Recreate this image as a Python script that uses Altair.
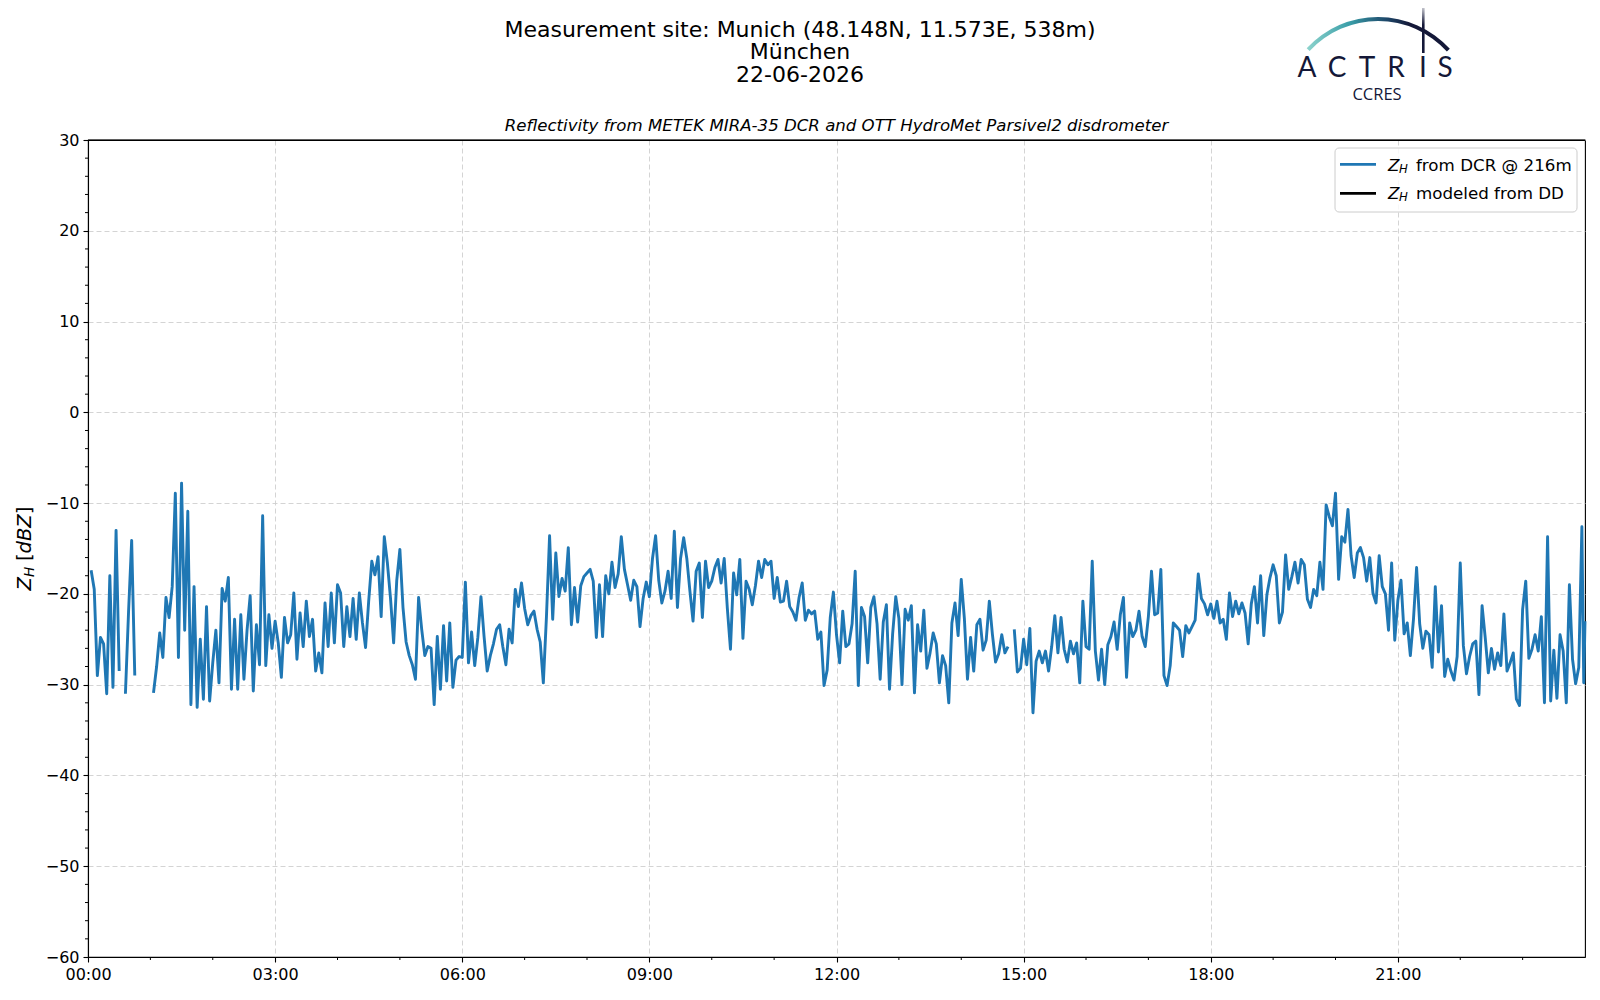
import altair as alt
import pandas as pd

# ---------------- data (3-minute samples) ----------------
STEP_H = 0.05  # 3 minutes in hours

H00 = [None, -17.4, -19.5, -29.0, -24.8, -25.5, -31.0, -18.0, -30.3, -13.0, -28.5, None, -31.0, -22.0, -14.1, -29.0, None, None, None, None]
H01 = [None, -30.9, -28.0, -24.3, -27.0, -20.4, -22.6, -19.2, -8.9, -27.0, -7.8, -24.0, -10.9, -32.2, -19.2, -32.5, -25.0, -31.6, -21.4, -31.8]
H02 = [-27.6, -24.0, -29.8, -19.4, -20.8, -18.2, -30.5, -22.8, -30.5, -22.3, -29.4, -24.0, -20.2, -30.7, -23.4, -27.8, -11.4, -27.9, -22.3, -26.0]
H03 = [-23.0, -25.4, -29.2, -22.6, -25.4, -24.5, -19.9, -27.2, -22.1, -25.8, -20.8, -24.7, -22.8, -28.5, -26.5, -28.7, -21.0, -25.8, -19.9, -25.4]
H04 = [-19.0, -19.9, -25.8, -21.4, -24.7, -20.5, -25.0, -19.9, -23.2, -25.9, -20.8, -16.4, -17.9, -15.9, -22.5, -13.7, -16.6, -20.5, -25.4, -18.5]
H05 = [-15.1, -21.5, -25.3, -26.8, -27.8, -29.4, -20.4, -23.9, -26.8, -25.8, -26.0, -32.2, -24.7, -30.5, -23.5, -29.6, -23.2, -30.3, -27.3, -26.9]
H06 = [-27.0, -18.7, -27.6, -24.2, -27.9, -24.8, -20.3, -24.7, -28.5, -26.8, -25.5, -23.9, -23.4, -25.8, -27.8, -23.9, -25.4, -19.5, -21.4, -18.8]
H07 = [-21.6, -23.4, -22.4, -21.9, -23.9, -25.3, -29.8, -22.5, -13.6, -22.8, -15.5, -20.3, -18.3, -19.7, -14.9, -23.4, -19.3, -23.1, -19.1, -18.1]
H08 = [-17.7, -17.3, -18.6, -24.8, -19.0, -24.7, -18.0, -20.0, -16.5, -19.3, -17.8, -13.7, -17.3, -19.0, -20.7, -18.5, -19.2, -23.6, -20.5, -18.7]
H09 = [-20.3, -16.1, -13.6, -18.5, -21.0, -19.7, -17.5, -20.5, -13.1, -21.5, -16.1, -13.8, -16.1, -19.7, -23.0, -17.5, -16.6, -22.6, -16.4, -19.3]
H10 = [-18.6, -17.1, -16.2, -18.8, -16.1, -21.6, -26.1, -17.7, -20.1, -16.2, -24.9, -18.6, -19.5, -21.2, -19.1, -16.4, -18.2, -16.2, -16.8, -16.4]
H11 = [-20.5, -18.2, -20.9, -20.8, -18.6, -21.4, -22.0, -22.9, -20.4, -18.8, -22.9, -21.8, -22.2, -21.9, -25.0, -24.2, -30.1, -28.4, -22.6, -19.8]
H12 = [-24.5, -27.6, -21.9, -25.8, -25.5, -23.3, -17.5, -30.1, -21.5, -22.5, -27.6, -21.5, -20.3, -23.3, -29.4, -23.1, -21.2, -30.5, -24.4, -20.3]
H13 = [-22.7, -30.0, -21.7, -22.9, -21.3, -30.9, -23.4, -26.3, -21.8, -28.2, -26.5, -24.3, -25.5, -29.8, -26.8, -27.9, -32.0, -23.2, -21.0, -24.6]
H14 = [-18.4, -22.7, -29.4, -24.8, -28.5, -23.4, -22.8, -26.2, -25.1, -20.8, -24.5, -27.5, -26.6, -24.5, -26.5, -25.8, None, -23.9, -28.6, -28.2]
H15 = [-25.0, -27.8, -23.8, -33.1, -27.4, -26.3, -27.6, -26.3, -28.5, -25.8, -22.4, -26.5, -22.6, -26.1, -27.5, -25.2, -26.6, -25.4, -29.8, -20.8]
H16 = [-25.8, -26.1, -16.4, -26.3, -29.5, -26.1, -30.0, -25.6, -24.7, -23.1, -26.1, -22.3, -20.4, -29.2, -23.2, -24.7, -24.0, -21.9, -24.7, -25.8]
H17 = [-22.5, -17.5, -22.3, -22.1, -17.3, -29.0, -30.1, -27.9, -23.2, -23.6, -24.0, -26.9, -23.5, -24.3, -23.6, -22.9, -17.8, -20.5, -21.1, -22.3]
H18 = [-21.1, -22.7, -20.8, -23.2, -22.8, -25.0, -19.9, -22.5, -20.8, -22.2, -21.0, -22.1, -25.5, -21.1, -19.2, -23.2, -18.0, -24.6, -20.1, -18.2]
H19 = [-16.8, -18.0, -23.2, -22.0, -15.7, -19.5, -18.1, -16.5, -18.8, -16.2, -16.8, -20.6, -21.5, -19.5, -20.2, -16.5, -19.5, -10.2, -11.5, -12.5]
H20 = [-8.9, -18.4, -13.7, -14.3, -10.7, -15.8, -18.2, -15.5, -14.9, -16.0, -18.6, -16.0, -19.9, -21.0, -15.8, -19.2, -20.0, -24.0, -16.6, -25.1]
H21 = [-20.7, -18.5, -24.4, -23.2, -26.8, -22.8, -17.1, -23.3, -26.0, -24.1, -24.5, -28.1, -19.2, -26.4, -21.3, -29.1, -27.2, -28.5, -29.5, -26.9]
H22 = [-16.6, -25.7, -28.8, -26.9, -25.5, -25.2, -31.1, -21.3, -24.8, -28.7, -26.0, -28.3, -26.5, -27.9, -22.2, -28.5, -27.6, -26.5, -31.6, -32.3]
H23 = [-21.7, -18.6, -27.1, -26.1, -24.5, -26.3, -22.5, -32.0, -13.7, -31.8, -26.2, -31.5, -24.5, -26.3, -32.0, -19.0, -27.2, -29.9, -28.1, -12.6]
END_T = [23.98, 24.0]
END_V = [-29.8, -23.0]

HOURLY = [H00, H01, H02, H03, H04, H05, H06, H07, H08, H09, H10, H11,
          H12, H13, H14, H15, H16, H17, H18, H19, H20, H21, H22, H23]

Y_MAJOR = list(range(-60, 31, 10))
Y_MINOR = [v for v in range(-58, 30, 2) if v % 10 != 0]
X_MAJOR = [0, 3, 6, 9, 12, 15, 18, 21]
X_MINOR = [h for h in range(1, 24) if h % 3 != 0]

rows = []
seg = 0
in_gap = False
for h, vals in enumerate(HOURLY):
    for k, v in enumerate(vals):
        t = h + k * STEP_H
        if v is None:
            if not in_gap:
                seg += 1
            in_gap = True
            continue
        in_gap = False
        rows.append({"t": t, "v": v, "seg": seg})
for t, v in zip(END_T, END_V):
    rows.append({"t": t, "v": v, "seg": seg})
df = pd.DataFrame(rows)

# ---------------- layout ----------------
W, H = 1497, 817
FONT = "DejaVu Sans"
NAVY = "#141838"
BLUE = "#1f77b4"

x_scale = alt.Scale(domain=[0, 24], nice=False, zero=False)
y_scale = alt.Scale(domain=[-60, 30], nice=False, zero=False)

axis_common = dict(
    grid=True, gridDash=[5, 3], gridColor="#cfcfcf", gridWidth=0.9,
    domainColor="black", domainWidth=1.1, tickColor="black", tickWidth=1.1, tickSize=5,
    labelFont=FONT, labelFontSize=16, labelColor="black", labelPadding=4,
    labelFlush=False, labelOverlap=False, labelBound=False, title=None,
)
x_axis = alt.Axis(values=X_MAJOR,
                  labelExpr="(datum.value < 10 ? '0' : '') + datum.value + ':00'",
                  **axis_common)
y_axis = alt.Axis(values=Y_MAJOR, format="d", **axis_common)

x_enc = alt.X("t:Q", scale=x_scale, axis=x_axis)
y_enc = alt.Y("v:Q", scale=y_scale, axis=y_axis)

line = alt.Chart(df).mark_line(color=BLUE, strokeWidth=2.9, strokeJoin="round").encode(
    x=x_enc, y=y_enc, detail="seg:N"
)

y_minor = alt.Chart(pd.DataFrame({"v": Y_MINOR})).mark_rule(color="black", strokeWidth=1).encode(
    y=y_enc, x=alt.value(-3), x2=alt.value(0)
)
x_minor = alt.Chart(pd.DataFrame({"t": X_MINOR})).mark_rule(color="black", strokeWidth=1).encode(
    x=x_enc, y=alt.value(H), y2=alt.value(H + 3)
)

one = pd.DataFrame({"_": [0]})

# solid top frame line (over the grid line at 30)
top_frame = alt.Chart(one).mark_rule(color="black", strokeWidth=1.4).encode(
    x=alt.value(0), x2=alt.value(W), y=alt.value(0.2))


def txt(text, x, y, size, align="left", baseline="alphabetic", font=FONT,
        style="normal", color="black", angle=None, weight="normal"):
    kw = dict(text=text, align=align, baseline=baseline, fontSize=size, font=font,
              fontStyle=style, color=color, fontWeight=weight)
    if angle is not None:
        kw["angle"] = angle
    return alt.Chart(one).mark_text(**kw).encode(x=alt.value(x), y=alt.value(y))


layers = [line, y_minor, x_minor, top_frame]

# titles
layers += [
    txt("Measurement site: Munich (48.148N, 11.573E, 538m)", 712, -103.5, 22, align="center"),
    txt("München", 712, -81, 22, align="center"),
    txt("22-06-2026", 712, -58, 22, align="center"),
    txt("Reflectivity from METEK MIRA-35 DCR and OTT HydroMet Parsivel2 disdrometer",
        W / 2, -9, 16.6, align="center", style="italic"),
]

# y-axis label: Z_H [dBZ] (rotated)
YL_X = -57
layers += [
    txt("Z", YL_X, 450.5, 19.5, style="italic", angle=270),
    txt("H", YL_X + 3, 437, 13.6, style="italic", angle=270),
    txt("[", YL_X, 421, 19.5, angle=270),
    txt("dBZ", YL_X, 413.4, 19.5, style="italic", angle=270),
    txt("]", YL_X, 374.3, 19.5, angle=270),
]

# legend
legend_box = alt.Chart(one).mark_rect(
    cornerRadius=4, fill="white", fillOpacity=0.8, stroke="#cccccc", strokeWidth=1
).encode(x=alt.value(1247), x2=alt.value(1489), y=alt.value(8), y2=alt.value(72))
leg_l1 = alt.Chart(one).mark_rule(color=BLUE, strokeWidth=2.8).encode(
    x=alt.value(1252), x2=alt.value(1288), y=alt.value(24.3))
leg_l2 = alt.Chart(one).mark_rule(color="black", strokeWidth=2.8).encode(
    x=alt.value(1252), x2=alt.value(1288), y=alt.value(53.3))
layers += [legend_box, leg_l1, leg_l2]
for yb, label in [(30.7, "from DCR @ 216m"), (59.3, "modeled from DD")]:
    layers += [
        txt("Z", 1300, yb, 16.7, style="italic"),
        txt("H", 1311, yb + 2, 11.7, style="italic"),
        txt(label, 1328, yb, 16.7),
    ]

# ACTRIS CCRES logo
arc_grad = alt.Gradient(
    gradient="linear", x1=0, y1=0, x2=1, y2=0,
    stops=[alt.GradientStop(offset=0, color="#8ed4cd"),
           alt.GradientStop(offset=0.3, color="#3a9ea8"),
           alt.GradientStop(offset=0.55, color="#1e4a6c"),
           alt.GradientStop(offset=0.72, color=NAVY),
           alt.GradientStop(offset=1, color=NAVY)],
)
logo_arc = alt.Chart(one).mark_arc(
    radius=97, radius2=93, theta=5.457, theta2=7.117, fill=arc_grad
).encode(x=alt.value(1290), y=alt.value(-26))
bar_grad = alt.Gradient(
    gradient="linear", x1=0, y1=0, x2=0, y2=1,
    stops=[alt.GradientStop(offset=0, color="#ffffff"),
           alt.GradientStop(offset=0.45, color=NAVY),
           alt.GradientStop(offset=1, color=NAVY)],
)
logo_bar = alt.Chart(one).mark_rect(fill=bar_grad).encode(
    x=alt.value(1334), x2=alt.value(1336.6), y=alt.value(-138), y2=alt.value(-87))
layers += [logo_arc, logo_bar]
for ch, cx in zip(["A", "C", "T", "R", "I", "S"], [1219, 1249, 1279, 1308, 1335, 1357]):
    layers.append(txt(ch, cx, -63, 28, align="center", font="Lato", color=NAVY))
layers.append(txt("CCRES", 1289, -40.5, 16.5, align="center", font="Open Sans", color=NAVY))

chart = alt.layer(*layers).properties(
    width=W, height=H,
    padding={"left": 80, "top": 132, "right": 7, "bottom": 35},
    autosize=alt.AutoSizeParams(type="none"),
).configure(font=FONT).configure_view(stroke="black", strokeWidth=1.1)

chart.save("out.html", embed_options={"renderer": "svg", "actions": False})
